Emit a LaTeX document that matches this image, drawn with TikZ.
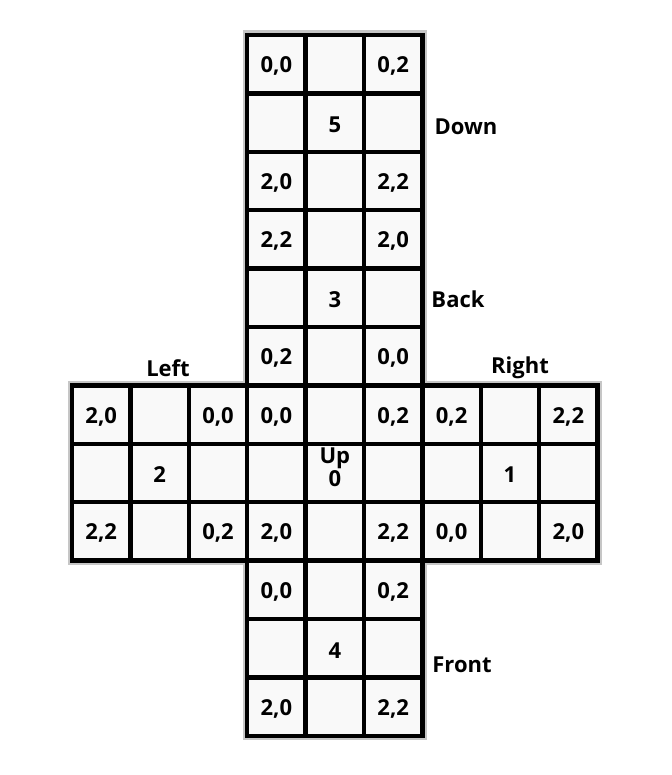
\documentclass[tikz,border=0pt]{standalone}
\usepackage{fontspec}
\setmainfont{Open Sans}
\usetikzlibrary{calc}
\tikzset{
  halo/.style={draw=gray!45, line width=9pt},
  cell/.style={draw=black, fill=gray!5, line width=4.5pt,
    minimum size=58.4pt, inner sep=0pt},
  celltext/.style={font=\bfseries\fontsize{22}{22}\selectfont,
    inner sep=0pt, yshift=-2pt},
  facename/.style={font=\bfseries\fontsize{22}{22}\selectfont, inner sep=0pt}
}
\newcommand*{\cs}{58.4}

\begin{document}
\begin{tikzpicture}[x=1pt,y=-1pt]
\useasboundingbox (0,0) rectangle (671,775);

% Grey shadow under the grid lines
\foreach \fx/\fy in {1/0,1/1,0/2,1/2,2/2,1/3}
  \foreach \i in {0,1,2}
    \foreach \j in {0,1,2}
      \draw[halo] ({72+(3*\fx+\i)*\cs},{35+(3*\fy+\j)*\cs}) rectangle +(\cs,\cs);

% Cells of the six faces
\foreach \fx/\fy/\f in {1/0/dn,1/1/bk,0/2/lf,1/2/up,2/2/rt,1/3/fr}
  \foreach \i in {0,1,2}
    \foreach \j in {0,1,2}
      \node[cell] (\f-\j-\i) at ({72+(3*\fx+\i+0.5)*\cs},{35+(3*\fy+\j+0.5)*\cs}) {};

% Corner and centre labels
\foreach \f/\a/\b/\c/\d/\m in {dn/{0,0}/{0,2}/{2,0}/{2,2}/5, bk/{2,2}/{2,0}/{0,2}/{0,0}/3,
    lf/{2,0}/{0,0}/{2,2}/{0,2}/2, rt/{0,2}/{2,2}/{0,0}/{2,0}/1, fr/{0,0}/{0,2}/{2,0}/{2,2}/4}{
  \node[celltext] (t-\f-0-0) at (\f-0-0) {\a};
  \node[celltext] (t-\f-0-2) at (\f-0-2) {\b};
  \node[celltext] (t-\f-2-0) at (\f-2-0) {\c};
  \node[celltext] (t-\f-2-2) at (\f-2-2) {\d};
  \node[celltext] (t-\f-1-1) at (\f-1-1) {\m};
}
\node[celltext] (t-up-0-0) at (up-0-0) {0,0};
\node[celltext] (t-up-0-2) at (up-0-2) {0,2};
\node[celltext] (t-up-2-0) at (up-2-0) {2,0};
\node[celltext] (t-up-2-2) at (up-2-2) {2,2};
\node[celltext, align=center, yshift=8pt] (t-up-1-1) at (up-1-1) {Up\\[1pt]0};

% Face names
\node[facename] (down)  at (466,127) {Down};
\node[facename] (back)  at (458,299) {Back};
\node[facename] (left)  at (168,368) {Left};
\node[facename] (right) at (520,368) {Right};
\node[facename] (front) at (462,665) {Front};
\end{tikzpicture}
\end{document}
